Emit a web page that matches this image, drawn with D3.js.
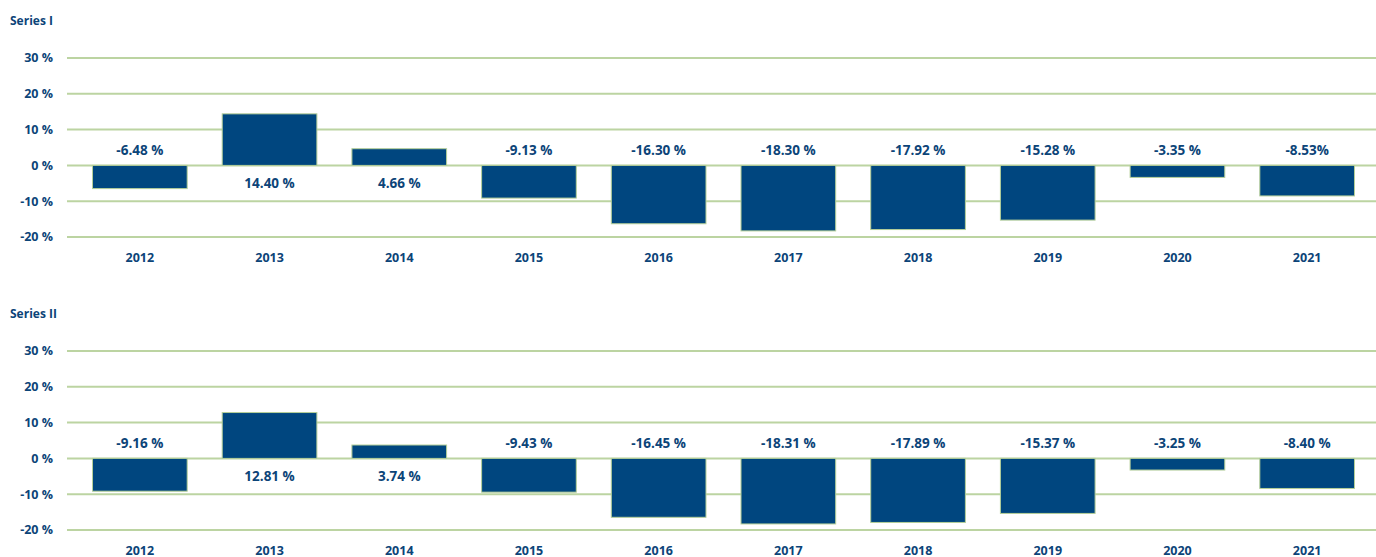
<!DOCTYPE html>
<html>
<head>
<meta charset="utf-8">
<script src="https://cdn.jsdelivr.net/npm/d3@7"></script>
<style>
  body { margin: 0; background: #fff; }
  svg text { font-family: "Open Sans", sans-serif; font-weight: 700; fill: #0c4478; }
</style>
</head>
<body>
<div id="chart"></div>
<script>
// Data
var years = ["2012", "2013", "2014", "2015", "2016", "2017", "2018", "2019", "2020", "2021"];
var seriesI = [-6.48, 14.40, 4.66, -9.13, -16.30, -18.30, -17.92, -15.28, -3.35, -8.53];
var seriesII = [-9.16, 12.81, 3.74, -9.43, -16.45, -18.31, -17.89, -15.37, -3.25, -8.40];
var labelsI = ["-6.48 %", "14.40 %", "4.66 %", "-9.13 %", "-16.30 %", "-18.30 %", "-17.92 %", "-15.28 %", "-3.35 %", "-8.53%"];
var labelsII = ["-9.16 %", "12.81 %", "3.74 %", "-9.43 %", "-16.45 %", "-18.31 %", "-17.89 %", "-15.37 %", "-3.25 %", "-8.40 %"];
var yTicks = [30, 20, 10, 0, -10, -20];

var svgWidth = 1376;
var svgHeight = 557;

var svg = d3.select("#chart")
  .append("svg")
  .attr("width", svgWidth)
  .attr("height", svgHeight);

var xScale = d3.scaleBand()
  .domain(years)
  .range([75, 1372])
  .paddingInner(0.27)
  .paddingOuter(0.135);

function drawPanel(top, title, values, labels) {
  var g = svg.append("g").attr("transform", `translate(0, ${top})`);

  var yScale = d3.scaleLinear()
    .domain([-20, 30])
    .range([179, 0]);

  g.append("text")
    .attr("x", 10)
    .attr("y", -33)
    .attr("font-size", 12)
    .text(title);

  // gridlines
  g.selectAll("line.grid")
    .data(yTicks)
    .enter()
    .append("line")
    .attr("x1", 67)
    .attr("x2", svgWidth)
    .attr("y1", d => yScale(d))
    .attr("y2", d => yScale(d))
    .attr("stroke", "#bcd4a2")
    .attr("stroke-width", 2);

  // y tick labels
  g.selectAll("text.ytick")
    .data(yTicks)
    .enter()
    .append("text")
    .attr("x", 53)
    .attr("y", d => yScale(d))
    .attr("dy", "0.35em")
    .attr("text-anchor", "end")
    .attr("font-size", 12.5)
    .text(d => d + " %");

  // bars
  g.selectAll("rect")
    .data(values)
    .enter()
    .append("rect")
    .attr("x", (d, i) => xScale(years[i]))
    .attr("width", xScale.bandwidth())
    .attr("y", d => yScale(Math.max(0, d)))
    .attr("height", d => Math.abs(yScale(d) - yScale(0)))
    .attr("fill", "#00467f")
    .attr("stroke", "#b5cf98")
    .attr("stroke-width", 1);

  // value labels
  g.selectAll("text.val")
    .data(values)
    .enter()
    .append("text")
    .attr("x", (d, i) => xScale(years[i]) + xScale.bandwidth() / 2)
    .attr("y", d => d < 0 ? yScale(0) - 10 : yScale(0) + 23)
    .attr("text-anchor", "middle")
    .attr("font-size", 13.5)
    .text((d, i) => labels[i]);

  // x labels
  g.selectAll("text.year")
    .data(years)
    .enter()
    .append("text")
    .attr("x", d => xScale(d) + xScale.bandwidth() / 2)
    .attr("y", 204)
    .attr("text-anchor", "middle")
    .attr("font-size", 12.5)
    .text(d => d);
}

drawPanel(58, "Series I", seriesI, labelsI);
drawPanel(351, "Series II", seriesII, labelsII);
</script>
</body>
</html>
